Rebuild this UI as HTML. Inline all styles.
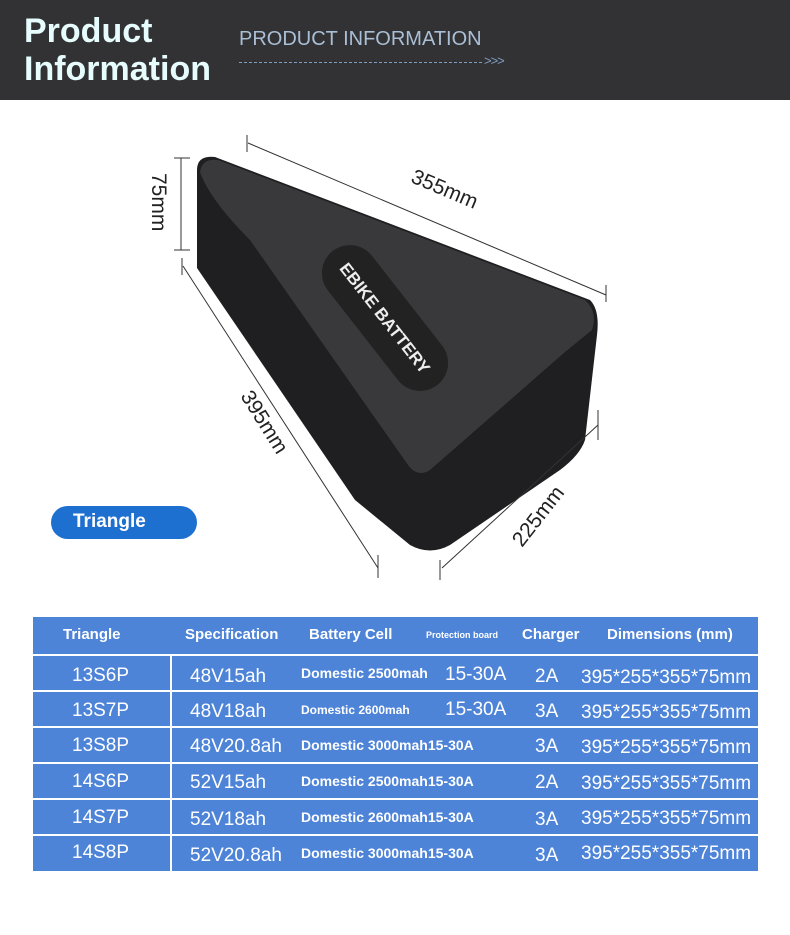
<!DOCTYPE html>
<html><head><meta charset="utf-8"><style>
body{margin:0;width:790px;height:935px;background:#fff;font-family:"Liberation Sans",sans-serif;position:relative;overflow:hidden}
.hdr{position:absolute;left:0;top:0;width:790px;height:100px;background:#323234}
.t1{position:absolute;left:24px;top:12px;color:#e6fcfd;font-weight:bold;font-size:34px;line-height:38px}
.t2{position:absolute;left:239px;top:28px;color:#a9bfd6;font-size:20px}
.dash{position:absolute;left:239px;top:62px;width:243px;border-top:1px dashed #7f9fc2}
.arr{position:absolute;left:484px;top:53px;color:#7f9fc2;font-size:13px;letter-spacing:-1px}
.tri{position:absolute;left:51px;top:506px;width:146px;height:33px;border-radius:17px;background:#1d6fd0;color:#fff;font-weight:bold;font-size:19px;line-height:31px;text-indent:22px}
.bg{position:absolute;left:33px;width:725px;background:#4e84d8}
.vl{position:absolute;left:170px;top:656px;width:2px;height:216px;background:#fff}
.tx{position:absolute;color:#fff;white-space:nowrap;line-height:20px}
.h{font-weight:bold;font-size:15px}
.b{font-weight:bold;font-size:14px}
.n{font-size:19px}
</style></head><body>
<div class="hdr"><div class="t1">Product<br>Information</div><div class="t2">PRODUCT INFORMATION</div><div class="dash"></div><div class="arr">&gt;&gt;&gt;</div></div>
<svg width="790" height="600" style="position:absolute;left:0;top:0">
<path d="M197,170 Q197,155 215,157 L590,300 Q600,310 597,335 L585,440 Q580,455 560,470 L450,545 Q430,556 410,545 L355,500 L197,268 Z" fill="#1f1f21"/>
<path d="M200,172 Q202,158 218,160 L585,300 Q598,312 592,330 L565,352 L430,470 Q418,478 408,465 L250,240 Q210,200 200,172 Z" fill="#39393b"/>
<rect x="300" y="290" width="170" height="56" rx="28" fill="#222" transform="rotate(52 385 318)"/>
<text x="385" y="324" fill="#eee" font-weight="bold" font-size="17" text-anchor="middle" transform="rotate(52 385 318)">EBIKE BATTERY</text>
<g stroke="#333" stroke-width="1" fill="none">
<line x1="248" y1="143" x2="606" y2="295"/><line x1="247" y1="135" x2="247" y2="152"/><line x1="606" y1="285" x2="606" y2="302"/>
<line x1="181" y1="158" x2="181" y2="250"/><line x1="174" y1="158" x2="190" y2="158"/><line x1="174" y1="250" x2="190" y2="250"/>
<line x1="183" y1="266" x2="378" y2="568"/><line x1="182" y1="258" x2="182" y2="275"/><line x1="378" y1="555" x2="378" y2="578"/>
<line x1="442" y1="568" x2="598" y2="425"/><line x1="440" y1="560" x2="440" y2="580"/><line x1="598" y1="410" x2="598" y2="440"/>
</g>
<g font-size="21" fill="#222">
<text x="405" y="195" transform="rotate(23 440 200)">355mm</text>
<text x="0" y="0" transform="translate(152,173) rotate(90)">75mm</text>
<text x="0" y="0" transform="translate(240,396) rotate(58)">395mm</text>
<text x="0" y="0" transform="translate(522,548) rotate(-52)">225mm</text>
</g>
</svg>
<div class="tri">Triangle</div>
<div class="bg" style="top:617px;height:37px"></div>
<div class="bg" style="top:656px;height:34px"></div>
<div class="bg" style="top:692px;height:34px"></div>
<div class="bg" style="top:728px;height:34px"></div>
<div class="bg" style="top:764px;height:34px"></div>
<div class="bg" style="top:800px;height:34px"></div>
<div class="bg" style="top:836px;height:35px"></div>
<div class="vl"></div>
<div class="tx h" style="left:63px;top:625px">Triangle</div>
<div class="tx h" style="left:185px;top:625px">Specification</div>
<div class="tx h" style="left:309px;top:625px">Battery Cell</div>
<div class="tx" style="left:426px;top:625px;font-size:9px;font-weight:bold">Protection board</div>
<div class="tx h" style="left:522px;top:625px">Charger</div>
<div class="tx h" style="left:607px;top:625px">Dimensions (mm)</div>

<div class="tx n" style="left:72px;top:666px">13S6P</div><div class="tx n" style="left:190px;top:667px">48V15ah</div><div class="tx b" style="left:301px;top:663px">Domestic 2500mah</div><div class="tx n" style="left:445px;top:665px">15-30A</div><div class="tx n" style="left:535px;top:667px">2A</div><div class="tx n" style="left:581px;top:668px">395*255*355*75mm</div>
<div class="tx n" style="left:72px;top:701px">13S7P</div><div class="tx n" style="left:190px;top:702px">48V18ah</div><div class="tx b" style="left:301px;top:700px;font-size:12px">Domestic 2600mah</div><div class="tx n" style="left:445px;top:700px">15-30A</div><div class="tx n" style="left:535px;top:702px">3A</div><div class="tx n" style="left:581px;top:703px">395*255*355*75mm</div>
<div class="tx n" style="left:72px;top:736px">13S8P</div><div class="tx n" style="left:190px;top:737px">48V20.8ah</div><div class="tx b" style="left:301px;top:735px">Domestic 3000mah15-30A</div><div class="tx n" style="left:535px;top:737px">3A</div><div class="tx n" style="left:581px;top:738px">395*255*355*75mm</div>
<div class="tx n" style="left:72px;top:772px">14S6P</div><div class="tx n" style="left:190px;top:773px">52V15ah</div><div class="tx b" style="left:301px;top:771px">Domestic 2500mah15-30A</div><div class="tx n" style="left:535px;top:773px">2A</div><div class="tx n" style="left:581px;top:774px">395*255*355*75mm</div>
<div class="tx n" style="left:72px;top:808px">14S7P</div><div class="tx n" style="left:190px;top:810px">52V18ah</div><div class="tx b" style="left:301px;top:807px">Domestic 2600mah15-30A</div><div class="tx n" style="left:535px;top:810px">3A</div><div class="tx n" style="left:581px;top:809px">395*255*355*75mm</div>
<div class="tx n" style="left:72px;top:843px">14S8P</div><div class="tx n" style="left:190px;top:846px">52V20.8ah</div><div class="tx b" style="left:301px;top:843px">Domestic 3000mah15-30A</div><div class="tx n" style="left:535px;top:846px">3A</div><div class="tx n" style="left:581px;top:844px">395*255*355*75mm</div>
</body></html>
